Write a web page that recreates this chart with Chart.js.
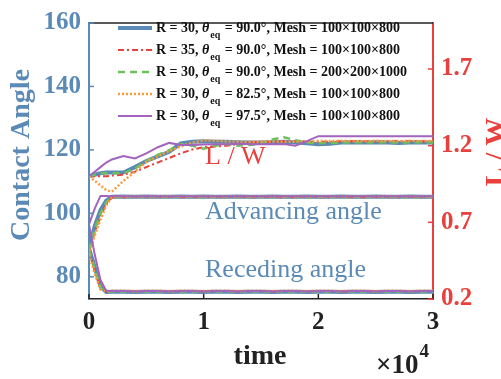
<!DOCTYPE html>
<html>
<head>
<meta charset="utf-8">
<script src="https://cdn.jsdelivr.net/npm/chart.js@4.4.1/dist/chart.umd.min.js"></script>
<style>
html,body{margin:0;padding:0;background:#fff;}
canvas{display:block;}
</style>
</head>
<body>
<canvas id="c" width="501" height="379"></canvas>
<script>
// ---- data ----
const times = [0,500,1000,1500,2000,3000,4000,5000,6000,7000,8000,9000,10000,11000,12000,13000,14000,15000,16000,17000,18000,19000,20000,21000,22000,23000,24000,25000,26000,27000,28000,29000,30000];

const seriesLabels = [
  ["R = 30, ", " = 90.0°, Mesh = 100×100×800"],
  ["R = 35, ", " = 90.0°, Mesh = 100×100×800"],
  ["R = 30, ", " = 90.0°, Mesh = 200×200×1000"],
  ["R = 30, ", " = 82.5°, Mesh = 100×100×800"],
  ["R = 30, ", " = 97.5°, Mesh = 100×100×800"]
];

// L / W (right axis)
const lwR30 =    [1.00,1.01,1.02,1.025,1.025,1.025,1.06,1.10,1.13,1.16,1.215,1.225,1.228,1.225,1.225,1.222,1.22,1.22,1.222,1.225,1.22,1.215,1.21,1.212,1.22,1.222,1.22,1.222,1.22,1.218,1.22,1.22,1.22];
const lwR35 =    [1.00,1.00,1.00,1.00,1.005,1.01,1.03,1.06,1.09,1.12,1.15,1.175,1.19,1.195,1.20,1.21,1.22,1.225,1.225,1.228,1.23,1.228,1.225,1.225,1.228,1.23,1.228,1.225,1.228,1.23,1.228,1.228,1.228];
const lwMesh =   [1.00,1.01,1.02,1.02,1.02,1.02,1.05,1.10,1.14,1.17,1.21,1.20,1.18,1.20,1.21,1.20,1.205,1.215,1.24,1.255,1.235,1.22,1.215,1.218,1.22,1.222,1.22,1.22,1.222,1.22,1.22,1.222,1.22];
const lwT825 =   [1.00,0.97,0.94,0.91,0.90,0.97,1.03,1.095,1.13,1.165,1.195,1.22,1.235,1.232,1.228,1.226,1.225,1.226,1.228,1.226,1.225,1.228,1.23,1.23,1.232,1.23,1.23,1.232,1.23,1.23,1.232,1.23,1.23];
const lwT975 =   [1.00,1.03,1.06,1.09,1.11,1.133,1.117,1.15,1.19,1.218,1.205,1.205,1.208,1.21,1.21,1.212,1.21,1.21,1.21,1.21,1.20,1.23,1.262,1.262,1.262,1.262,1.262,1.262,1.262,1.262,1.262,1.262,1.262];

// Advancing angle (left axis)
const advR30 =   [89.0,96.0,101.0,104.0,105.2,105.3,105.2,105.3,105.2,105.2,105.3,105.2,105.3,105.2,105.2,105.3,105.2,105.2,105.3,105.2,105.2,105.3,105.2,105.2,105.3,105.2,105.2,105.3,105.2,105.2,105.3,105.2,105.2];
const advR35 =   [88.0,94.0,99.0,103.0,105.0,105.1,105.2,105.1,105.1,105.2,105.1,105.1,105.2,105.1,105.1,105.2,105.1,105.1,105.2,105.1,105.1,105.2,105.1,105.1,105.2,105.1,105.1,105.2,105.1,105.1,105.2,105.1,105.1];
const advMesh =  [88.5,95.0,100.0,103.5,105.1,105.2,105.1,105.2,105.2,105.1,105.2,105.2,105.1,105.2,105.2,105.1,105.2,105.2,105.1,105.2,105.2,105.1,105.2,105.2,105.1,105.2,105.2,105.1,105.2,105.2,105.1,105.2,105.2];
const advT825 =  [87.0,93.0,98.0,102.5,105.2,105.4,105.3,105.4,105.4,105.3,105.4,105.4,105.3,105.4,105.4,105.3,105.4,105.4,105.3,105.4,105.4,105.3,105.4,105.4,105.3,105.4,105.4,105.3,105.4,105.4,105.3,105.4,105.4];
const advT975 =  [96.5,101.5,105.5,105.5,105.4,105.4,105.3,105.4,105.4,105.3,105.4,105.4,105.3,105.4,105.4,105.3,105.4,105.4,105.3,105.4,105.4,105.3,105.4,105.4,105.3,105.4,105.4,105.3,105.4,105.4,105.3,105.4,105.4];

// Receding angle (left axis)
const recR30 =   [89.0,83.0,77.0,75.2,75.3,75.3,75.2,75.3,75.3,75.2,75.3,75.3,75.2,75.3,75.3,75.2,75.3,75.3,75.2,75.3,75.3,75.2,75.3,75.3,75.2,75.3,75.3,75.2,75.3,75.3,75.2,75.3,75.3];
const recR35 =   [88.0,82.0,76.5,75.4,75.5,75.5,75.4,75.5,75.5,75.4,75.5,75.5,75.4,75.5,75.5,75.4,75.5,75.5,75.4,75.5,75.5,75.4,75.5,75.5,75.4,75.5,75.5,75.4,75.5,75.5,75.4,75.5,75.5];
const recMesh =  [88.5,82.5,76.5,75.3,75.4,75.4,75.3,75.4,75.4,75.3,75.4,75.4,75.3,75.4,75.4,75.3,75.4,75.4,75.3,75.4,75.4,75.3,75.4,75.4,75.3,75.4,75.4,75.3,75.4,75.4,75.3,75.4,75.4];
const recT825 =  [87.0,81.0,76.0,75.5,75.6,75.6,75.5,75.6,75.6,75.5,75.6,75.6,75.5,75.6,75.6,75.5,75.6,75.6,75.5,75.6,75.6,75.5,75.6,75.6,75.5,75.6,75.6,75.5,75.6,75.6,75.5,75.6,75.6];
const recT975 =  [96.5,87.0,79.0,75.6,75.5,75.5,75.4,75.5,75.5,75.4,75.5,75.5,75.4,75.5,75.5,75.4,75.5,75.5,75.4,75.5,75.5,75.4,75.5,75.5,75.4,75.5,75.5,75.4,75.5,75.5,75.4,75.5,75.5];

const xTicks = [0,10000,20000,30000];
const leftTicks = [80,100,120,140,160];
const rightTicks = [0.2,0.7,1.2,1.7];

// ---- styles ----
const BLUE_AX = '#5a8ab5';
const RED_AX = '#e8403c';
const styles = [
  {color:'#5a8ab5', width:4,   dash:[]},
  {color:'#e8403c', width:2,   dash:[6,3,2,3]},
  {color:'#6cbf5c', width:2.5, dash:[7,5]},
  {color:'#f99a3b', width:2.5, dash:[2,2]},
  {color:'#a463bd', width:2,   dash:[]}
];
const lwSets = [lwR30,lwR35,lwMesh,lwT825,lwT975];
const advSets = [advR30,advR35,advMesh,advT825,advT975];
const recSets = [recR30,recR35,recMesh,recT825,recT975];

function pts(arr){ return times.map((t,i)=>({x:t,y:arr[i]})); }

const datasets = [];
for (let i=0;i<5;i++){
  const s = styles[i];
  const base = {borderColor:s.color, backgroundColor:s.color, borderWidth:s.width, borderDash:s.dash,
    pointRadius:0, fill:false, tension:0, order:5-i};
  datasets.push(Object.assign({}, base, {data:pts(lwSets[i]), yAxisID:'y2'}));
  datasets.push(Object.assign({}, base, {data:pts(advSets[i]), yAxisID:'y'}));
  datasets.push(Object.assign({}, base, {data:pts(recSets[i]), yAxisID:'y'}));
}

const SERIF = '"Liberation Serif","Times New Roman",serif';

const decor = {
  id:'decor',
  afterDatasetsDraw(chart){
    const ctx = chart.ctx, ca = chart.chartArea;
    const xs = chart.scales.x, ys = chart.scales.y, y2 = chart.scales.y2;
    ctx.save();
    // top border
    ctx.strokeStyle = '#222'; ctx.lineWidth = 1.5;
    ctx.beginPath(); ctx.moveTo(ca.left, ca.top); ctx.lineTo(ca.right, ca.top); ctx.stroke();
    // inward tick marks
    ctx.lineWidth = 1.5;
    ctx.strokeStyle = '#222';
    xTicks.forEach(v=>{ const px = xs.getPixelForValue(v);
      ctx.beginPath(); ctx.moveTo(px, ca.bottom); ctx.lineTo(px, ca.bottom-5); ctx.stroke(); });
    ctx.strokeStyle = BLUE_AX;
    leftTicks.forEach(v=>{ const py = ys.getPixelForValue(v);
      ctx.beginPath(); ctx.moveTo(ca.left, py); ctx.lineTo(ca.left+5, py); ctx.stroke(); });
    ctx.strokeStyle = RED_AX;
    rightTicks.forEach(v=>{ const py = y2.getPixelForValue(v);
      ctx.beginPath(); ctx.moveTo(ca.right, py); ctx.lineTo(ca.right-5, py); ctx.stroke(); });

    // annotations
    ctx.textBaseline = 'middle'; ctx.textAlign = 'left';
    ctx.font = '26px ' + SERIF;
    ctx.fillStyle = RED_AX; ctx.fillText('L / W', 205, 157);
    ctx.fillStyle = BLUE_AX; ctx.fillText('Advancing angle', 205, 212);
    ctx.fillText('Receding angle', 205, 270);

    // legend
    for (let i=0;i<5;i++){
      const y = 28 + 22*i, s = styles[i];
      ctx.strokeStyle = s.color; ctx.lineWidth = s.width; ctx.setLineDash(s.dash);
      ctx.beginPath(); ctx.moveTo(118, y); ctx.lineTo(152, y); ctx.stroke();
      ctx.setLineDash([]);
      ctx.fillStyle = '#111'; ctx.textBaseline = 'middle';
      let x = 156;
      ctx.font = 'bold 14px ' + SERIF;
      ctx.fillText(seriesLabels[i][0], x, y); x += ctx.measureText(seriesLabels[i][0]).width;
      ctx.font = 'italic bold 14px ' + SERIF;
      ctx.fillText('θ', x, y); x += ctx.measureText('θ').width;
      ctx.font = 'bold 10px ' + SERIF;
      ctx.fillText('eq', x+1, y+7); x += ctx.measureText('eq').width + 2;
      ctx.font = 'bold 14px ' + SERIF;
      ctx.fillText(seriesLabels[i][1], x, y);
    }

    // axis titles
    ctx.font = 'bold 28px ' + SERIF;
    ctx.textAlign = 'center'; ctx.textBaseline = 'middle';
    ctx.fillStyle = '#222'; ctx.fillText('time', 260, 357);
    ctx.save(); ctx.translate(22, 155); ctx.rotate(-Math.PI/2);
    ctx.fillStyle = BLUE_AX; ctx.fillText('Contact Angle', 0, 0); ctx.restore();
    ctx.save(); ctx.translate(497, 152); ctx.rotate(-Math.PI/2);
    ctx.fillStyle = RED_AX; ctx.fillText('L / W', 0, 0); ctx.restore();
    // exponent
    ctx.textAlign = 'left'; ctx.textBaseline = 'alphabetic';
    ctx.fillStyle = '#222';
    ctx.font = 'bold 27px ' + SERIF;
    ctx.fillText('×10', 376, 373);
    const w = ctx.measureText('×10').width;
    ctx.font = 'bold 19px ' + SERIF;
    ctx.fillText('4', 376 + w + 1, 357);
    ctx.restore();
  }
};

new Chart(document.getElementById('c'), {
  type:'line',
  data:{datasets},
  options:{
    responsive:false, animation:false,
    layout:{padding:{top:13, left:0, right:0, bottom:0}},
    plugins:{legend:{display:false}, tooltip:{enabled:false}},
    scales:{
      x:{type:'linear', min:0, max:30000,
        afterBuildTicks(s){ s.ticks = xTicks.map(v=>({value:v})); },
        afterFit(s){ s.height = 80; },
        grid:{display:false, drawTicks:false},
        border:{display:true, color:'#222', width:1.5},
        ticks:{padding:9, color:'#222', font:{family:SERIF, size:25, weight:'bold'}, maxRotation:0,
          callback:v=>String(v/10000)}},
      y:{type:'linear', position:'left', min:73, max:160,
        afterBuildTicks(s){ s.ticks = leftTicks.map(v=>({value:v})); },
        afterFit(s){ s.width = 89; },
        grid:{display:false, drawTicks:false},
        border:{display:true, color:BLUE_AX, width:2},
        ticks:{padding:8, color:BLUE_AX, font:{family:SERIF, size:25, weight:'bold'}}},
      y2:{type:'linear', position:'right', min:0.2, max:2.0,
        afterBuildTicks(s){ s.ticks = rightTicks.map(v=>({value:v})); },
        afterFit(s){ s.width = 68; },
        grid:{display:false, drawTicks:false},
        border:{display:true, color:RED_AX, width:2},
        ticks:{padding:8, color:RED_AX, font:{family:SERIF, size:25, weight:'bold'},
          callback:v=>v.toFixed(1)}}
    }
  },
  plugins:[decor]
});
</script>
</body>
</html>
